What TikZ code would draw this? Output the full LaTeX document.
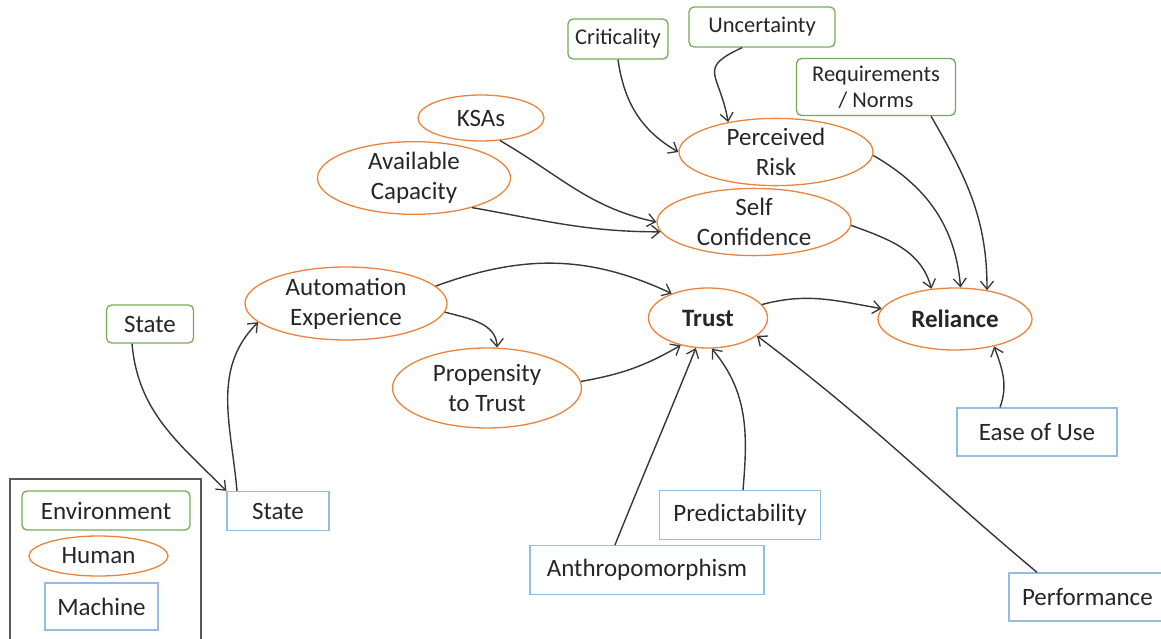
\documentclass[tikz,border=0pt]{standalone}
\usepackage{fontspec}
\setmainfont{Carlito}
\usetikzlibrary{arrows.meta,shapes.geometric,calc}
\definecolor{envc}{RGB}{118,170,86}
\definecolor{humc}{RGB}{237,130,60}
\definecolor{macc}{RGB}{150,188,226}
\definecolor{linec}{RGB}{55,55,55}
\tikzset{
  lbl/.style={font=\fontsize{25}{30}\selectfont, align=center, text=black!85},
  small/.style={font=\fontsize{22.5}{26}\selectfont},
  envbox/.style={lbl, draw=envc, line width=1.3pt, rounded corners=5pt, inner sep=0pt},
  hum/.style={lbl, draw=humc, line width=1.3pt, ellipse, inner sep=0pt},
  mach/.style={lbl, draw=macc, line width=1.3pt, rectangle, inner sep=0pt},
  conn/.style={draw=linec, line width=1.4pt, -{Straight Barb[length=8pt,width=13pt,line width=1.3pt]}},
}
\begin{document}
\begin{tikzpicture}[x=1pt,y=1pt]
\path[use as bounding box] (0,0) rectangle (1161,-639);
% environment
\node[envbox, small, minimum width=100, minimum height=40] (crit) at (618,-39) {Criticality};
\node[envbox, small, minimum width=146, minimum height=40] (unc) at (762,-27) {Uncertainty};
\node[envbox, small, minimum width=159, minimum height=57] (req) at (876,-87) {Requirements\\/ Norms};
\node[envbox, minimum width=87, minimum height=38] (stg) at (150,-324) {State};
% human
\node[hum, minimum width=126, minimum height=46] (ksa) at (481,-118) {KSAs};
\node[hum, minimum width=193, minimum height=63] (avail) at (414,-178) {Available\\Capacity};
\node[hum, minimum width=194, minimum height=60] (pr) at (776,-152) {Perceived\\Risk};
\node[hum, minimum width=194, minimum height=62] (sc) at (754,-222) {Self\\Confidence};
\node[hum, minimum width=202, minimum height=73] (ae) at (346,-303.5) {Automation\\Experience};
\node[hum, minimum width=119, minimum height=60, font=\fontsize{25}{30}\selectfont\bfseries] (trust) at (708,-318) {Trust};
\node[hum, minimum width=154, minimum height=62, font=\fontsize{25}{30}\selectfont\bfseries] (rel) at (955,-319) {Reliance};
\node[hum, minimum width=189, minimum height=80] (prop) at (487,-388) {Propensity\\to Trust};
% machine
\node[mach, minimum width=102, minimum height=39] (stb) at (278,-511) {State};
\node[mach, minimum width=160, minimum height=48] (ease) at (1037,-432) {Ease of Use};
\node[mach, minimum width=161, minimum height=49] (pred) at (740,-515) {Predictability};
\node[mach, minimum width=234, minimum height=49] (anth) at (647,-570) {Anthropomorphism};
\node[mach, minimum width=170, minimum height=48, text width=170, align=left] (perf) at (1094,-597) {\hspace*{13pt}Performance};
% legend
\draw[draw=black!65, line width=1.3pt] (10,-650) |- (201,-479) -- (201,-650);
\node[envbox, minimum width=168, minimum height=39] (lenv) at (106,-510.5) {Environment};
\node[hum, minimum width=139, minimum height=40] (lhum) at (98.5,-556) {Human};
\node[mach, minimum width=113, minimum height=47] (lmac) at (101.5,-606.5) {Machine};
% connectors
\draw[conn] (crit.south) to[out=-82,in=150] (pr.west);
\draw[conn] ($(unc.south)+(-20,0)$) to[out=-155,in=100,looseness=1.7] (pr.148);
\draw[conn] ($(req.south)+(55,0)$) to[out=-60,in=90] (rel.42);
\draw[conn] (pr.-2) to[out=-30,in=95] (rel.80);
\draw[conn] (sc.-2) to[out=-20,in=105] (rel.128);
\draw[conn] (ksa.-50) to[out=-30,in=168] (sc.180);
\draw[conn] (avail.-27) to[out=-10,in=180] (sc.186);
\draw[conn] (ae.11) to[out=20,in=155] (trust.146);
\draw[conn] (ae.-5) to[out=-15,in=92] (prop.76);
\draw[conn] (prop.4) to[out=10,in=-150] (trust.-135);
\draw[conn] (trust.14) to[out=15,in=170] (rel.172);
\draw[conn] ($(anth.north)+(-32,0)$) to[out=68,in=-112] (trust.-112);
\draw[conn] ($(pred.north)+(3,0)$) to[out=85,in=-50] (trust.-83);
\draw[conn] ($(perf.north)+(-57,0)$) to[out=140,in=-37] (trust.-20);
\draw[conn] ($(ease.north)+(-37,0)$) to[out=70,in=-70] (rel.-35);
\draw[conn] ($(stg.south)+(-18,0)$) to[out=-85,in=135] (stb.north west);
\draw[conn] ($(stb.north)+(-41,0)$) to[out=95,in=-135] (ae.-168);
\end{tikzpicture}
\end{document}
